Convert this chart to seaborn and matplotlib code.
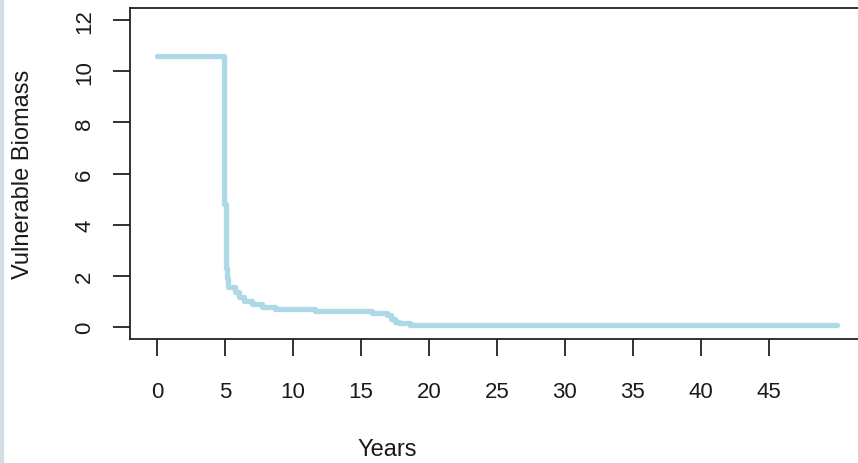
import matplotlib
matplotlib.use("Agg")
import matplotlib.pyplot as plt
import matplotlib.patches as mpatches
import seaborn as sns
import pandas as pd

# step curve
years = [0, 4.93, 5.07, 5.12, 5.2, 5.7, 6.0, 6.4, 7.0, 7.7, 8.7, 11.6, 15.8, 16.9, 17.2, 17.5, 17.8, 18.6, 50]
biomass = [10.6, 4.8, 2.3, 1.9, 1.55, 1.37, 1.18, 1.02, 0.9, 0.78, 0.71, 0.63, 0.55, 0.45, 0.3, 0.2, 0.16, 0.08, 0.08]
x_ticks = [0, 5, 10, 15, 20, 25, 30, 35, 40, 45]
y_ticks = [0, 2, 4, 6, 8, 10, 12]

df = pd.DataFrame({"Years": years, "Vulnerable Biomass": biomass})

sns.set_style("ticks")
plt.rcParams['font.family'] = ['Liberation Sans', 'DejaVu Sans']

fig = plt.figure(figsize=(8.58, 4.64), dpi=100)
W, H = 858, 464
# plot box runs past the right edge of the image (cropped like the original)
ax = fig.add_axes([130 / W, (H - 340) / H, 734 / W, 331 / H])

sns.lineplot(data=df, x="Years", y="Vulnerable Biomass", ax=ax,
             drawstyle="steps-post", color="#add8e6", linewidth=3.8)

ax.set_xlim(-2, 52)
ax.set_ylim(-0.48, 12.48)
ax.set_xticks(x_ticks)
ax.set_yticks(y_ticks)
ax.set_yticklabels([str(v) for v in y_ticks], rotation=90, va="center")
ax.tick_params(axis="both", length=12, width=1.3, color="#222222", labelsize=16,
               labelcolor="#1a1a1a")
ax.tick_params(axis="x", pad=18)
ax.tick_params(axis="y", pad=13)
for s in ax.spines.values():
    s.set_visible(True)
    s.set_linewidth(1.3)
    s.set_color("#222222")

ax.set_xlabel("Years", fontsize=17, color="#1a1a1a")
ax.set_ylabel("Vulnerable Biomass", fontsize=17, color="#1a1a1a")
ax.xaxis.set_label_coords((387 - 130) / 734, -(450 - 340) / 331)
ax.xaxis.label.set_va("center")
ax.yaxis.set_label_coords(-(130 - 23) / 734, 0.5)
ax.yaxis.label.set_va("center")

# thin gray strip on the left border
fig.patches.append(mpatches.Rectangle((0, 0), 3 / W, 1, transform=fig.transFigure,
                                      color="#d5dde3", zorder=0))

fig.savefig("out.png", dpi=100)
